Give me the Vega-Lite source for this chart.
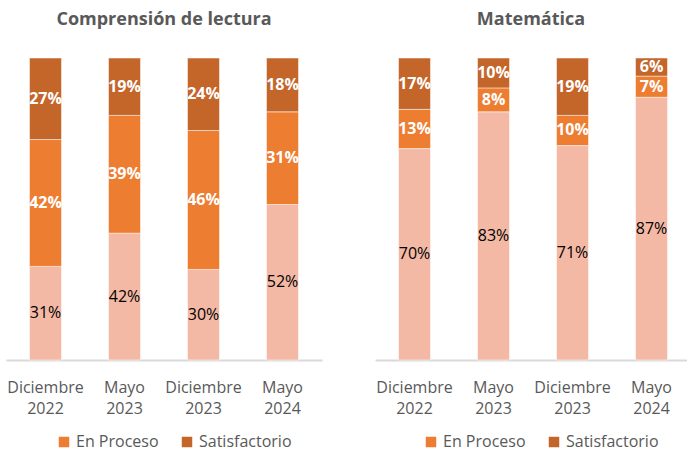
{
  "$schema": "https://vega.github.io/schema/vega-lite/v6.json",
  "padding": {"left": 6, "top": 10, "right": 0, "bottom": 12},
  "background": "white",
  "config": {
    "view": {"stroke": null},
    "font": "Open Sans",
    "title": {"fontSize": 18, "fontWeight": "bold", "color": "#595959", "font": "Open Sans", "offset": 29},
    "concat": {"spacing": 53},
    "axisX": {"title": null, "labelAngle": 0, "labelExpr": "split(datum.label, ' ')", "labelFontSize": 16, "labelColor": "#595959", "labelFont": "Open Sans", "labelPadding": 19, "labelLineHeight": 21, "ticks": false, "domainColor": "#D9D9D9", "domainWidth": 2},
    "legend": {"orient": "none", "direction": "horizontal", "title": null, "symbolType": "square", "symbolSize": 110, "symbolStrokeWidth": 0, "labelFontSize": 16, "labelColor": "#595959", "labelFont": "Open Sans", "columnPadding": 20, "labelOffset": 4, "padding": 0}
  },
  "datasets": {
    "d": [
      {"panel": "L", "fecha": "Diciembre 2022", "nivel": "En Inicio", "ord": 0, "v": 0.31},
      {"panel": "L", "fecha": "Diciembre 2022", "nivel": "En Proceso", "ord": 1, "v": 0.42},
      {"panel": "L", "fecha": "Diciembre 2022", "nivel": "Satisfactorio", "ord": 2, "v": 0.27},
      {"panel": "L", "fecha": "Mayo 2023", "nivel": "En Inicio", "ord": 0, "v": 0.42},
      {"panel": "L", "fecha": "Mayo 2023", "nivel": "En Proceso", "ord": 1, "v": 0.39},
      {"panel": "L", "fecha": "Mayo 2023", "nivel": "Satisfactorio", "ord": 2, "v": 0.19},
      {"panel": "L", "fecha": "Diciembre 2023", "nivel": "En Inicio", "ord": 0, "v": 0.30},
      {"panel": "L", "fecha": "Diciembre 2023", "nivel": "En Proceso", "ord": 1, "v": 0.46},
      {"panel": "L", "fecha": "Diciembre 2023", "nivel": "Satisfactorio", "ord": 2, "v": 0.24},
      {"panel": "L", "fecha": "Mayo 2024", "nivel": "En Inicio", "ord": 0, "v": 0.52},
      {"panel": "L", "fecha": "Mayo 2024", "nivel": "En Proceso", "ord": 1, "v": 0.31},
      {"panel": "L", "fecha": "Mayo 2024", "nivel": "Satisfactorio", "ord": 2, "v": 0.18},
      {"panel": "R", "fecha": "Diciembre 2022", "nivel": "En Inicio", "ord": 0, "v": 0.70},
      {"panel": "R", "fecha": "Diciembre 2022", "nivel": "En Proceso", "ord": 1, "v": 0.13},
      {"panel": "R", "fecha": "Diciembre 2022", "nivel": "Satisfactorio", "ord": 2, "v": 0.17},
      {"panel": "R", "fecha": "Mayo 2023", "nivel": "En Inicio", "ord": 0, "v": 0.83},
      {"panel": "R", "fecha": "Mayo 2023", "nivel": "En Proceso", "ord": 1, "v": 0.08},
      {"panel": "R", "fecha": "Mayo 2023", "nivel": "Satisfactorio", "ord": 2, "v": 0.10},
      {"panel": "R", "fecha": "Diciembre 2023", "nivel": "En Inicio", "ord": 0, "v": 0.71},
      {"panel": "R", "fecha": "Diciembre 2023", "nivel": "En Proceso", "ord": 1, "v": 0.10},
      {"panel": "R", "fecha": "Diciembre 2023", "nivel": "Satisfactorio", "ord": 2, "v": 0.19},
      {"panel": "R", "fecha": "Mayo 2024", "nivel": "En Inicio", "ord": 0, "v": 0.87},
      {"panel": "R", "fecha": "Mayo 2024", "nivel": "En Proceso", "ord": 1, "v": 0.07},
      {"panel": "R", "fecha": "Mayo 2024", "nivel": "Satisfactorio", "ord": 2, "v": 0.06}
    ]
  },
  "data": {"name": "d"},
  "resolve": {"legend": {"color": "independent"}, "scale": {"x": "independent", "y": "independent", "color": "independent"}},
  "hconcat": [
    {
      "title": "Comprensión de lectura",
      "width": 316,
      "height": 302,
      "transform": [{"filter": "datum.panel === 'L'"}],
      "encoding": {
        "x": {"field": "fecha", "type": "nominal", "sort": null,
          "scale": {"paddingInner": 0.595, "paddingOuter": 0.2975}},
        "y": {"field": "v", "type": "quantitative", "stack": "normalize", "axis": null},
        "order": {"field": "ord", "type": "quantitative", "sort": "ascending"}
      },
      "layer": [
        {
          "mark": {"type": "bar", "stroke": "white", "strokeWidth": 0.5},
          "encoding": {
            "color": {"field": "nivel", "type": "nominal",
              "scale": {"domain": ["En Inicio", "En Proceso", "Satisfactorio"], "range": ["#F4B9A5", "#ED7D31", "#C4652A"]},
              "legend": {"values": ["En Proceso", "Satisfactorio"], "legendX": 50, "legendY": 376}}
          }
        },
        {
          "mark": {"type": "text", "fontSize": 16, "font": "Open Sans", "color": "#000000"},
          "encoding": {
            "y": {"field": "v", "type": "quantitative", "stack": "normalize", "bandPosition": 0.5},
            "text": {"condition": {"test": "datum.ord === 0", "field": "v", "type": "quantitative", "format": ".0%"}, "value": ""}
          }
        },
        {
          "mark": {"type": "text", "fontSize": 16, "font": "Open Sans", "fontWeight": "bold", "color": "#ffffff"},
          "encoding": {
            "y": {"field": "v", "type": "quantitative", "stack": "normalize", "bandPosition": 0.5},
            "text": {"condition": {"test": "datum.ord > 0", "field": "v", "type": "quantitative", "format": ".0%"}, "value": ""}
          }
        }
      ]
    },
    {
      "title": "Matemática",
      "width": 312,
      "height": 302,
      "transform": [{"filter": "datum.panel === 'R'"}],
      "encoding": {
        "x": {"field": "fecha", "type": "nominal", "sort": null,
          "scale": {"paddingInner": 0.595, "paddingOuter": 0.272, "align": 0.547}},
        "y": {"field": "v", "type": "quantitative", "stack": "normalize", "axis": null},
        "order": {"field": "ord", "type": "quantitative", "sort": "ascending"}
      },
      "layer": [
        {
          "mark": {"type": "bar", "stroke": "white", "strokeWidth": 0.5},
          "encoding": {
            "color": {"field": "nivel", "type": "nominal",
              "scale": {"domain": ["En Inicio", "En Proceso", "Satisfactorio"], "range": ["#F4B9A5", "#ED7D31", "#C4652A"]},
              "legend": {"values": ["En Proceso", "Satisfactorio"], "legendX": 48, "legendY": 376}}
          }
        },
        {
          "mark": {"type": "text", "fontSize": 16, "font": "Open Sans", "color": "#000000"},
          "encoding": {
            "y": {"field": "v", "type": "quantitative", "stack": "normalize", "bandPosition": 0.5},
            "text": {"condition": {"test": "datum.ord === 0", "field": "v", "type": "quantitative", "format": ".0%"}, "value": ""}
          }
        },
        {
          "mark": {"type": "text", "fontSize": 16, "font": "Open Sans", "fontWeight": "bold", "color": "#ffffff"},
          "encoding": {
            "y": {"field": "v", "type": "quantitative", "stack": "normalize", "bandPosition": 0.5},
            "text": {"condition": {"test": "datum.ord > 0", "field": "v", "type": "quantitative", "format": ".0%"}, "value": ""}
          }
        }
      ]
    }
  ]
}
